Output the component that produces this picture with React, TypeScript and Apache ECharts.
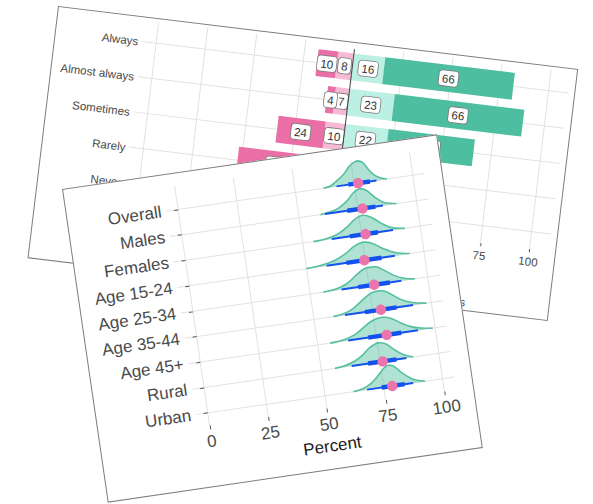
import React, { useEffect, useRef } from 'react';
import * as echarts from 'echarts';

const FONT = '"Liberation Sans", Arial, Helvetica, sans-serif';

// ---------- Back panel (diverging stacked bars) ----------
const freqCats = ['Always', 'Almost always', 'Sometimes', 'Rarely', 'Never'];
const legendNames = ['No', 'Rather no', 'Rather yes', 'Yes'];
const noVals = [10, 4, 24, 38, 52];
const ratherNoVals = [8, 7, 10, 14, 18];
const ratherYesVals = [16, 23, 22, 20, 14];
const yesVals = [66, 66, 44, 28, 16];
const backTicks = [-100, -75, -50, -25, 0, 25, 50, 75, 100];

// ---------- Front panel (half-eye densities) ----------
const groups = ['Overall', 'Males', 'Females', 'Age 15-24', 'Age 25-34', 'Age 35-44', 'Age 45+', 'Rural', 'Urban'];
const medians = [76.7, 77.0, 76.7, 74.6, 77.2, 78.5, 79.4, 76.1, 78.6];
const lo95 = [67.5, 61.0, 62.3, 58.6, 63.3, 63.2, 63.0, 62.9, 67.9];
const hi95 = [84.5, 85.7, 88.4, 87.6, 88.8, 92.2, 92.7, 86.2, 87.5];
const lo66 = [72.5, 70.5, 70.0, 67.0, 70.4, 71.7, 71.5, 69.9, 74.1];
const hi66 = [81.7, 82.5, 82.0, 81.9, 83.9, 85.2, 85.6, 82.0, 83.9];
const frontTicks = [0, 25, 50, 75, 100];

// density outlines: [percent, height as share of row spacing]
const densOverall = [[62, 0], [65, 0.05], [67.5, 0.18], [71.5, 0.45], [74, 0.7], [76.5, 0.84], [78, 0.86], [80, 0.75], [82, 0.45], [84, 0.22], [86.5, 0.07], [89, 0]];
const densMales = [[59, 0], [63, 0.05], [67, 0.15], [71, 0.38], [74, 0.65], [77, 0.78], [80, 0.65], [83, 0.35], [86, 0.13], [89, 0.04], [91.5, 0]];
const densFemales = [[54.5, 0], [60, 0.04], [65, 0.15], [69, 0.35], [73, 0.62], [76.5, 0.74], [80, 0.62], [84, 0.32], [88, 0.1], [93.4, 0]];
const densAge1524 = [[50, 0], [56, 0.04], [62, 0.15], [67, 0.35], [71, 0.58], [75, 0.7], [79, 0.6], [83, 0.35], [88, 0.12], [94, 0]];
const densAge2534 = [[55.6, 0], [61, 0.05], [66, 0.2], [70, 0.45], [73.5, 0.65], [76, 0.7], [79, 0.68], [82, 0.52], [86, 0.25], [90, 0.08], [94.5, 0]];
const densAge3544 = [[58.3, 0], [63, 0.06], [67, 0.2], [71, 0.45], [75, 0.68], [78.3, 0.74], [81, 0.7], [84, 0.52], [88, 0.25], [92, 0.1], [97.9, 0]];
const densAge45 = [[55.3, 0], [61, 0.05], [66, 0.18], [70, 0.4], [74, 0.62], [78, 0.7], [82, 0.62], [86, 0.38], [90, 0.18], [94, 0.07], [99, 0]];
const densRural = [[55.8, 0], [60, 0.05], [64, 0.15], [68, 0.35], [71.5, 0.6], [75.3, 0.74], [78.5, 0.65], [81.5, 0.4], [85, 0.15], [89.1, 0]];
const densUrban = [[62.1, 0], [66, 0.06], [70, 0.22], [73, 0.45], [76, 0.72], [78.1, 0.82], [80.5, 0.74], [83.5, 0.45], [87, 0.18], [90, 0.06], [92.6, 0]];
const densities = [densOverall, densMales, densFemales, densAge1524, densAge2534, densAge3544, densAge45, densRural, densUrban];

const GRID = '#e2e2e2';
const LABEL = '#4a4a4a';
const TICK = '#555555';
const DARK_PINK = '#EA6FA6';
const LIGHT_PINK = '#F6BAD4';
const LIGHT_TEAL = '#BCF0E3';
const TEAL = '#4DBE9F';
const BLUE = '#1452F0';
const DOT = '#EC74AC';

function vGridSeries(ticks: number[], extTop: number, extBottom: number, z: number) {
  return {
    type: 'custom',
    z,
    silent: true,
    clip: false,
    data: ticks.map((v) => [v, 0]),
    renderItem: (params: any, api: any) => {
      const cs = params.coordSys;
      const x = api.coord([api.value(0), 0])[0];
      return {
        type: 'line',
        shape: { x1: x, y1: cs.y - extTop, x2: x, y2: cs.y + cs.height + extBottom },
        style: { stroke: GRID, lineWidth: 1 },
      };
    },
  };
}

function hGridSeries(cats: string[], z: number) {
  return {
    type: 'custom',
    z,
    silent: true,
    data: cats.map((_c, i) => [0, i]),
    renderItem: (params: any, api: any) => {
      const cs = params.coordSys;
      const y = api.coord([0, api.value(1)])[1];
      return {
        type: 'line',
        shape: { x1: cs.x, y1: y, x2: cs.x + cs.width, y2: y },
        style: { stroke: GRID, lineWidth: 1 },
      };
    },
  };
}

const barLabel = {
  show: true,
  position: 'inside',
  formatter: (p: any) => String(Math.abs(p.value)),
  color: '#333',
  fontSize: 11.6,
  fontFamily: FONT,
  backgroundColor: '#ffffff',
  borderColor: '#7a7a7a',
  borderWidth: 0.8,
  borderRadius: 3,
  padding: [2, 3, 1, 3],
};

function backOption(): any {
  return {
    animation: false,
    textStyle: { fontFamily: FONT },
    grid: { left: 88, right: 7, top: 7.25, bottom: 69.25, containLabel: false },
    legend: {
      data: legendNames,
      right: 79,
      top: 234,
      itemWidth: 12,
      itemHeight: 12,
      itemGap: 10,
      icon: 'rect',
      textStyle: { color: LABEL, fontSize: 11.6, fontFamily: FONT },
    },
    xAxis: {
      type: 'value',
      min: -107,
      max: 110,
      axisLine: { show: false },
      splitLine: { show: false },
      axisTick: { show: true, customValues: backTicks, length: 3, lineStyle: { color: TICK } },
      axisLabel: {
        customValues: backTicks,
        formatter: (v: number) => String(Math.abs(v)),
        color: LABEL,
        fontSize: 11.6,
        margin: 6,
      },
    },
    yAxis: {
      type: 'category',
      data: freqCats,
      inverse: true,
      axisLine: { show: false },
      splitLine: { show: false },
      axisTick: { show: true, alignWithLabel: true, length: 3, lineStyle: { color: TICK } },
      axisLabel: { color: LABEL, fontSize: 11.6, margin: 4 },
    },
    series: [
      vGridSeries(backTicks.filter((v) => v !== 0), 3.5, 3.5, 0),
      hGridSeries(freqCats, 0),
      {
        name: 'Rather no', type: 'bar', stack: 'all', barWidth: 27, z: 2,
        itemStyle: { color: LIGHT_PINK }, label: barLabel,
        data: ratherNoVals.map((v) => -v),
      },
      {
        name: 'No', type: 'bar', stack: 'all', barWidth: 27, z: 2,
        itemStyle: { color: DARK_PINK }, label: barLabel,
        data: noVals.map((v) => -v),
      },
      {
        name: 'Rather yes', type: 'bar', stack: 'all', barWidth: 27, z: 2,
        itemStyle: { color: LIGHT_TEAL }, label: barLabel,
        data: ratherYesVals,
      },
      {
        name: 'Yes', type: 'bar', stack: 'all', barWidth: 27, z: 2,
        itemStyle: { color: TEAL }, label: barLabel,
        data: yesVals,
        markLine: {
          silent: true,
          symbol: 'none',
          label: { show: false },
          lineStyle: { color: '#444', width: 1, type: 'solid' },
          data: [{ xAxis: 0 }],
        },
      },
    ],
  };
}

function frontOption(): any {
  return {
    animation: false,
    textStyle: { fontFamily: FONT },
    grid: { left: 100, right: 18, top: 24.15, bottom: 61.55, containLabel: false },
    xAxis: {
      type: 'value',
      min: -5,
      max: 105,
      name: 'Percent',
      nameLocation: 'middle',
      nameGap: 28,
      nameTextStyle: { fontSize: 17, color: '#1a1a1a', fontFamily: FONT },
      axisLine: { show: false },
      splitLine: { show: false },
      axisTick: { show: true, customValues: frontTicks, length: 4, lineStyle: { color: TICK } },
      axisLabel: { customValues: frontTicks, color: LABEL, fontSize: 17, margin: 7.5 },
    },
    yAxis: {
      type: 'category',
      data: groups,
      inverse: true,
      axisLine: { show: false },
      splitLine: { show: false },
      axisTick: { show: true, alignWithLabel: true, length: 4, lineStyle: { color: TICK } },
      axisLabel: { color: LABEL, fontSize: 17, margin: 5 },
    },
    series: [
      vGridSeries(frontTicks, 10.8, 0, 0),
      hGridSeries(groups, 0),
      {
        type: 'custom',
        z: 2,
        clip: false,
        silent: true,
        data: groups.map((_g, i) => [medians[i], i]),
        renderItem: (params: any, api: any) => {
          const i = params.dataIndex;
          const band = api.size([0, 1])[1];
          const dens = densities[i];
          const pts = dens.map(([x, h]) => {
            const p = api.coord([x, i]);
            return [p[0], p[1] - h * band];
          });
          const c0 = [pts[0][0], pts[0][1]];
          const c1 = [pts[pts.length - 1][0], pts[pts.length - 1][1]];
          return {
            type: 'group',
            children: [
              {
                type: 'polygon',
                shape: { points: pts, smooth: 0.35, smoothConstraint: [c0, c1] },
                style: { fill: 'rgba(77,190,158,0.45)', stroke: 'none' },
              },
              {
                type: 'polyline',
                shape: { points: pts, smooth: 0.35, smoothConstraint: [c0, c1] },
                style: { fill: 'none', stroke: '#55BF9F', lineWidth: 1.6 },
              },
            ],
          };
        },
      },
      {
        type: 'custom',
        z: 3,
        clip: false,
        silent: true,
        data: groups.map((_g, i) => [medians[i], i, lo95[i], hi95[i], lo66[i], hi66[i]]),
        renderItem: (_params: any, api: any) => {
          const row = api.value(1);
          const y = api.coord([0, row])[1];
          const px = (v: number) => api.coord([v, row])[0];
          return {
            type: 'group',
            children: [
              { type: 'line', shape: { x1: px(api.value(2)), y1: y, x2: px(api.value(3)), y2: y }, style: { stroke: BLUE, lineWidth: 1.9 } },
              { type: 'line', shape: { x1: px(api.value(4)), y1: y, x2: px(api.value(5)), y2: y }, style: { stroke: BLUE, lineWidth: 4.4 } },
              { type: 'circle', shape: { cx: px(api.value(0)), cy: y, r: 5.2 }, style: { fill: DOT } },
            ],
          };
        },
      },
    ],
  };
}

function Panel(props: { left: number; top: number; width: number; height: number; angle: number; z: number; option: () => any }) {
  const ref = useRef<HTMLDivElement>(null);
  useEffect(() => {
    if (!ref.current) return;
    const chart = echarts.init(ref.current, undefined, { renderer: 'svg', width: props.width, height: props.height });
    try {
      chart.setOption(props.option());
    } catch (e) {
      console.error(e);
    }
    return () => chart.dispose();
  }, []);
  return (
    <div
      style={{
        position: 'absolute',
        left: props.left,
        top: props.top,
        width: props.width,
        height: props.height,
        transformOrigin: '0 0',
        transform: `rotate(${props.angle}deg)`,
        background: '#ffffff',
        zIndex: props.z,
      }}
    >
      <div ref={ref} style={{ position: 'absolute', left: 0, top: 0, width: props.width, height: props.height }} />
      <div
        style={{
          position: 'absolute',
          left: 0,
          top: 0,
          width: props.width,
          height: props.height,
          boxSizing: 'border-box',
          border: '1.7px solid #7d7d7d',
          pointerEvents: 'none',
        }}
      />
    </div>
  );
}

export default function App() {
  return (
    <div style={{ position: 'absolute', left: 0, top: 0, width: 593, height: 504, overflow: 'hidden', background: '#fff' }}>
      <Panel left={58} top={6} width={524} height={254} angle={6.9} z={1} option={backOption} />
      <Panel left={62} top={189} width={379} height={317} angle={-8.3} z={2} option={frontOption} />
    </div>
  );
}
